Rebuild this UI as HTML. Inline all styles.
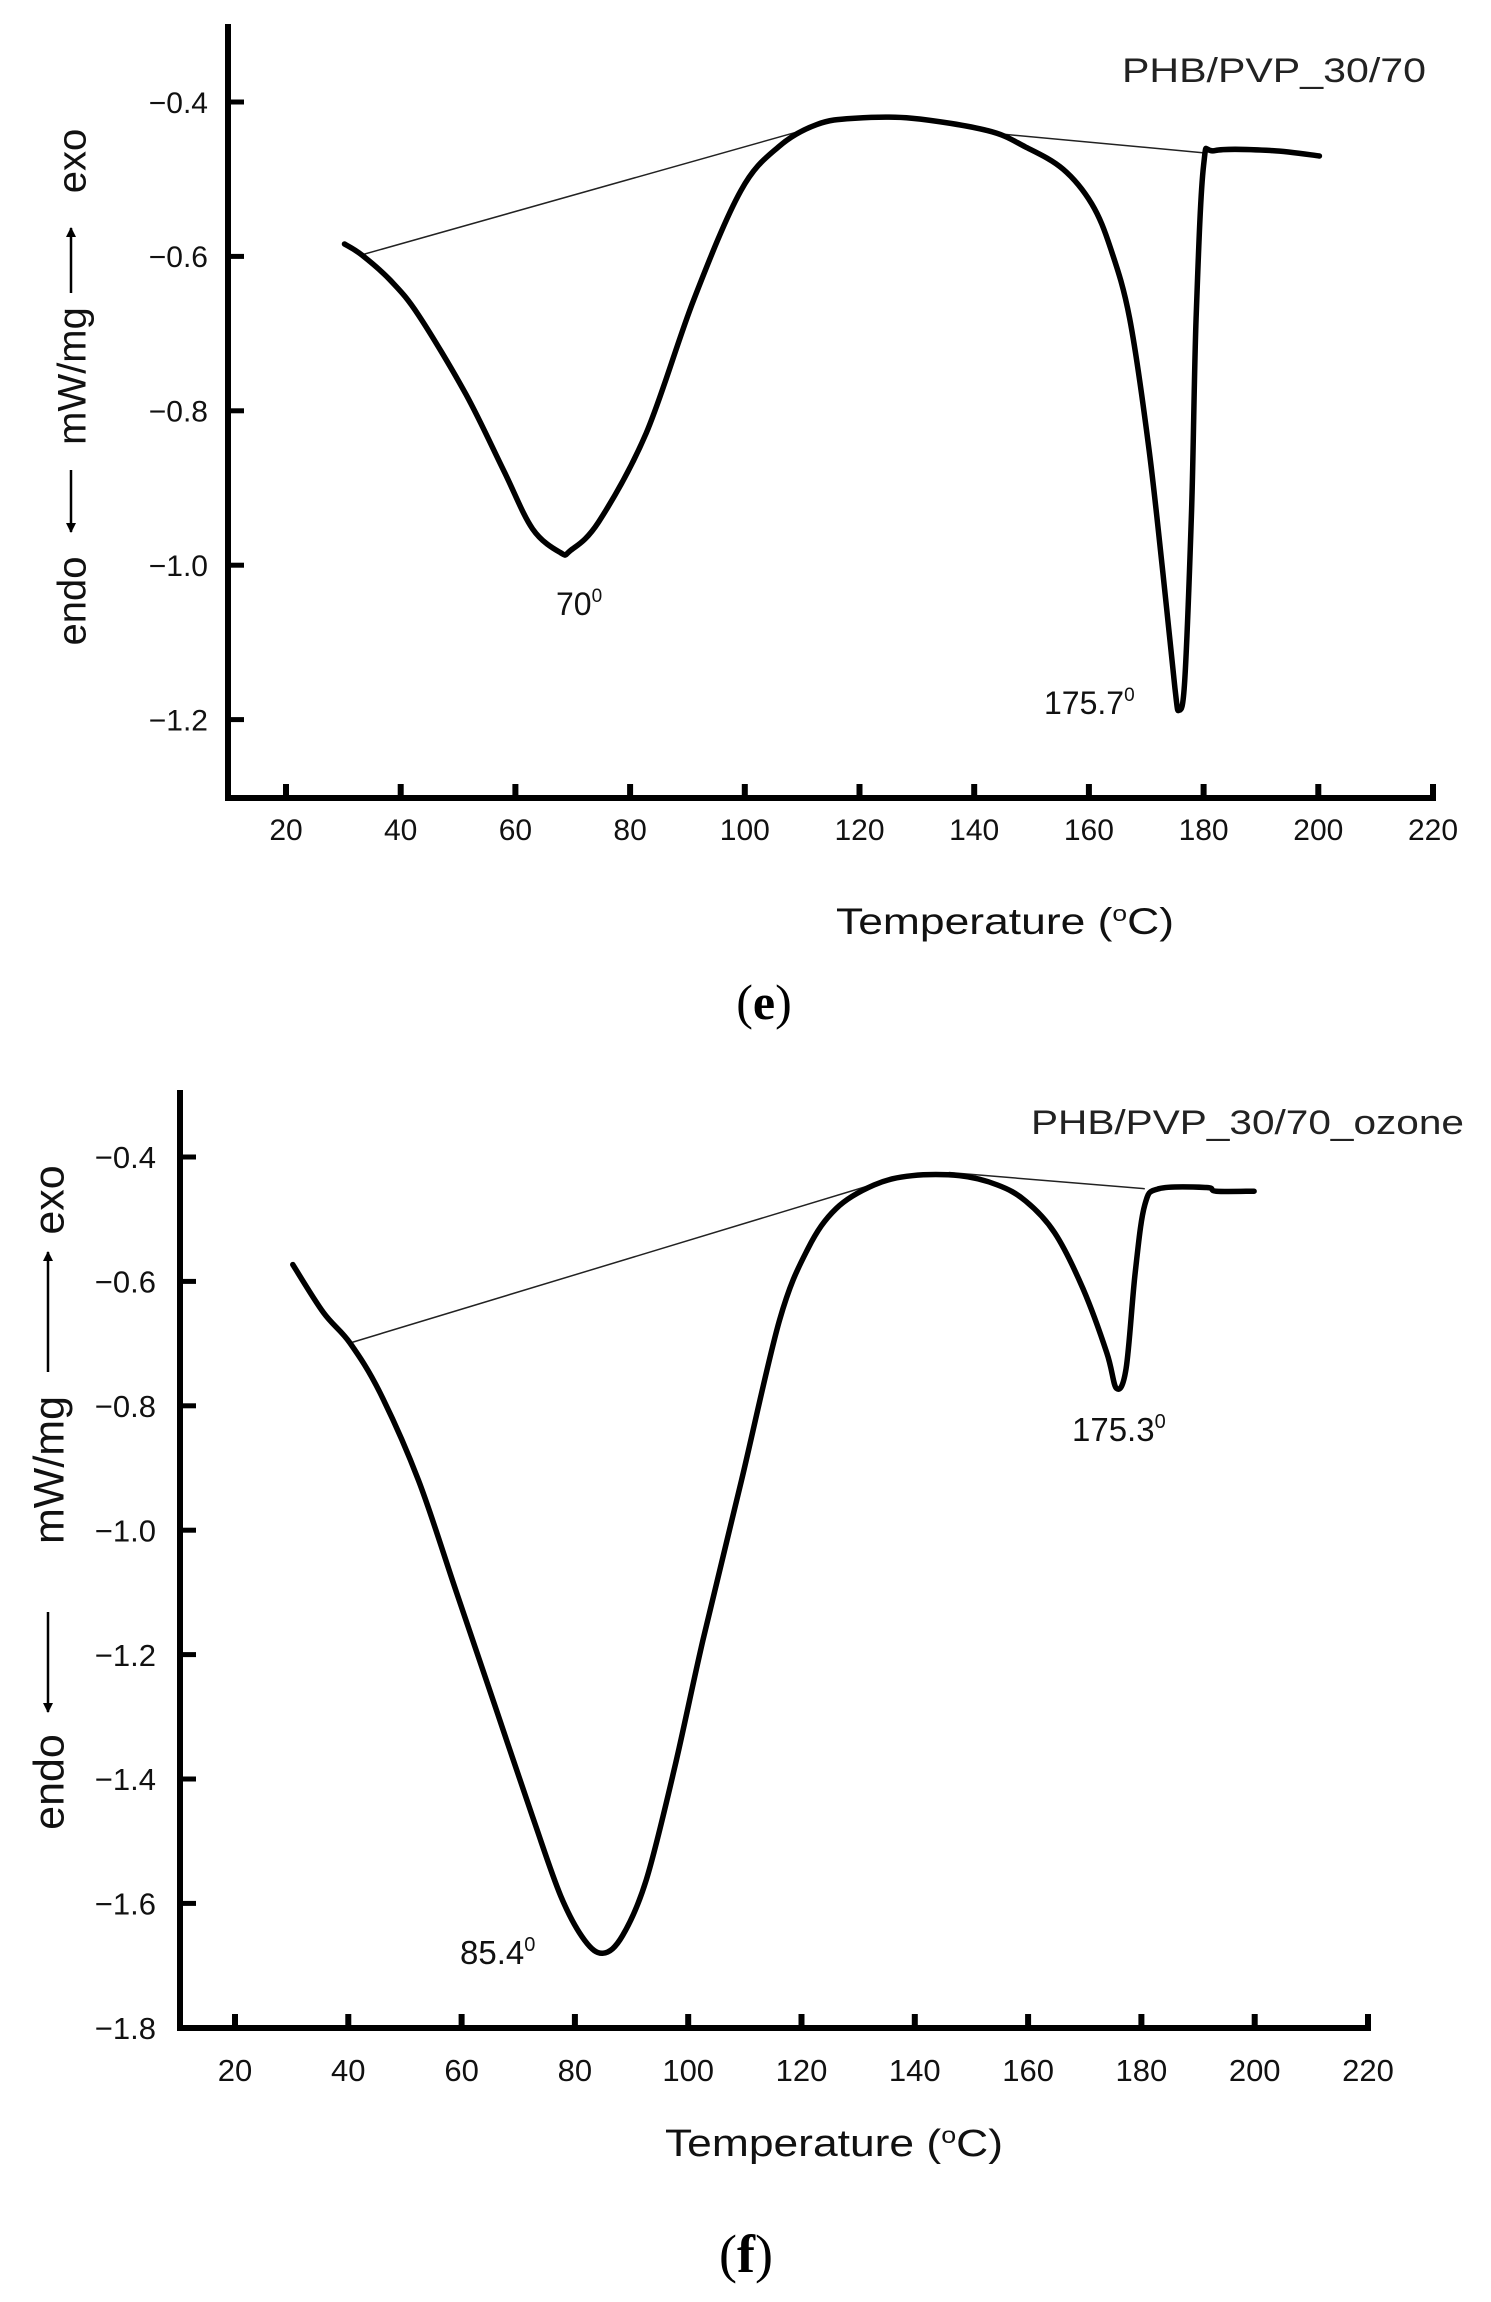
<!DOCTYPE html>
<html><head><meta charset="utf-8"><style>
html,body{margin:0;padding:0;background:#fff;}
svg{display:block;font-family:"Liberation Sans",Arial,sans-serif;}
</style></head><body>
<svg id="fig" width="1491" height="2302" viewBox="0 0 1491 2302" xmlns="http://www.w3.org/2000/svg">
<defs>
<marker id="ah" viewBox="0 0 10 10" refX="9" refY="5" markerWidth="4" markerHeight="4" orient="auto"><path d="M0,0 L10,5 L0,10 z" fill="#000"/></marker>
</defs>
<g id="chartE"></g>
<g id="chartF"></g>
</svg>
<script>
// ---- Chart (e) data ----
const eTemps = [30.2,33.2,38.2,43.1,51.4,58,63,67.9,69.6,74.5,82.8,91.1,99.3,105.9,112.6,119.2,129.1,142.3,148.9,155.5,160.5,163.8,167.1,170.4,172.9,175,175.7,176.7,177.9,178.7,180,182,192,200.2];
const eValues = [-0.584,-0.598,-0.631,-0.676,-0.779,-0.878,-0.953,-0.984,-0.981,-0.944,-0.829,-0.656,-0.515,-0.458,-0.429,-0.421,-0.421,-0.437,-0.458,-0.487,-0.532,-0.59,-0.68,-0.845,-1.01,-1.159,-1.188,-1.15,-0.928,-0.68,-0.482,-0.463,-0.463,-0.47];
const eBase1T = [33.2,110];
const eBase1V = [-0.598,-0.437];
const eBase2T = [144,180.3];
const eBase2V = [-0.441,-0.466];
const eXTicks = [20,40,60,80,100,120,140,160,180,200,220];
const eYTicks = [-0.4,-0.6,-0.8,-1.0,-1.2];
const eYLabels = ["\u22120.4","\u22120.6","\u22120.8","\u22121.0","\u22121.2"];

// ---- Chart (f) data ----
const fTemps = [30.2,35.6,40.3,45.6,52.4,59.1,65.8,72.5,77.5,81.7,85,88.4,92.6,97.6,102.6,109.4,116.1,121.1,126.1,132.8,139.5,147.9,154.6,159.6,164.7,169.7,173.9,175.6,177.3,178.9,180.6,183.1,191.5,193.2,199.9];
const fValues = [-0.573,-0.65,-0.699,-0.779,-0.92,-1.1,-1.28,-1.46,-1.588,-1.659,-1.68,-1.652,-1.562,-1.382,-1.177,-0.92,-0.663,-0.548,-0.483,-0.445,-0.43,-0.43,-0.445,-0.471,-0.522,-0.612,-0.715,-0.772,-0.74,-0.586,-0.477,-0.451,-0.449,-0.455,-0.455];
const fBase1T = [40.3,134.5];
const fBase1V = [-0.699,-0.439];
const fBase2T = [146,180.6];
const fBase2V = [-0.425,-0.451];
const fXTicks = [20,40,60,80,100,120,140,160,180,200,220];
const fYTicks = [-0.4,-0.6,-0.8,-1.0,-1.2,-1.4,-1.6,-1.8];
const fYLabels = ["\u22120.4","\u22120.6","\u22120.8","\u22121.0","\u22121.2","\u22121.4","\u22121.6","\u22121.8"];

const NS = "http://www.w3.org/2000/svg";
function mk(parent, tag, attrs, text){
  const el = document.createElementNS(NS, tag);
  for (const k in attrs) el.setAttribute(k, attrs[k]);
  if (text !== undefined) el.textContent = text;
  parent.appendChild(el);
  return el;
}
function smoothPath(pts){
  let d = 'M'+pts[0][0].toFixed(1)+','+pts[0][1].toFixed(1);
  for (let i=0;i<pts.length-1;i++){
    const p0=pts[Math.max(0,i-1)], p1=pts[i], p2=pts[i+1], p3=pts[Math.min(pts.length-1,i+2)];
    const c1=[p1[0]+(p2[0]-p0[0])/6, p1[1]+(p2[1]-p0[1])/6];
    const c2=[p2[0]-(p3[0]-p1[0])/6, p2[1]-(p3[1]-p1[1])/6];
    d+=' C'+c1[0].toFixed(1)+','+c1[1].toFixed(1)+' '+c2[0].toFixed(1)+','+c2[1].toFixed(1)+' '+p2[0].toFixed(1)+','+p2[1].toFixed(1);
  }
  return d;
}

function drawChart(g, cfg){
  const X = t => cfg.x0 + (t - 20) * cfg.xs;
  const Y = v => cfg.y0 + (-0.4 - v) * cfg.ys;
  const yAxis = mk(g,'line',{x1:cfg.ax,y1:cfg.top,x2:cfg.ax,y2:cfg.bottom,stroke:'#000','stroke-width':6});
  
  
  const xAxis = mk(g,'line',{x1:cfg.ax-3,y1:cfg.bottom,x2:X(220)+3,y2:cfg.bottom,stroke:'#000','stroke-width':6});
  
  
  cfg.xTicks.forEach(t=>{
    const tk = mk(g,'line',{x1:X(t),y1:cfg.bottom,x2:X(t),y2:cfg.bottom-14,stroke:'#000','stroke-width':6});
    
    
    const lb = mk(g,'text',{x:X(t),y:cfg.xLabelY,'font-size':cfg.tickFont,'text-anchor':'middle',fill:'#111'},String(t));
    
    
  });
  cfg.yTicks.forEach((v,i)=>{
    const tk = mk(g,'line',{x1:cfg.ax,y1:Y(v),x2:cfg.ax+16,y2:Y(v),stroke:'#000','stroke-width':5});
    
    
    const lb = mk(g,'text',{x:cfg.yLabelX,y:Y(v)+cfg.tickFont*0.36,'font-size':cfg.tickFont,'text-anchor':'end',fill:'#111'},cfg.yLabels[i]);
    
    
  });
  [[cfg.b1T,cfg.b1V],[cfg.b2T,cfg.b2V]].forEach(([ts,vs])=>{
    const bl = mk(g,'line',{x1:X(ts[0]),y1:Y(vs[0]),x2:X(ts[1]),y2:Y(vs[1]),stroke:'#222','stroke-width':1.5});
    
    
  });
  const pts = cfg.temps.map((t,i)=>[X(t),Y(cfg.vals[i])]);
  const p = mk(g,'path',{d:smoothPath(pts),fill:'none',stroke:'#000','stroke-width':5.5,'stroke-linejoin':'round','stroke-linecap':'round'});
  
  
}

const gE = document.getElementById('chartE');
drawChart(gE,{x0:286,xs:5.735,y0:102,ys:772,ax:228,top:24,bottom:798,xTicks:eXTicks,yTicks:eYTicks,yLabels:eYLabels,
  xLabelY:840,yLabelX:208,tickFont:30,temps:eTemps,vals:eValues,b1T:eBase1T,b1V:eBase1V,b2T:eBase2T,b2V:eBase2V});
const gF = document.getElementById('chartF');
drawChart(gF,{x0:235,xs:5.665,y0:1157,ys:622,ax:180,top:1090,bottom:2028,xTicks:fXTicks,yTicks:fYTicks,yLabels:fYLabels,
  xLabelY:2081,yLabelX:156,tickFont:31,temps:fTemps,vals:fValues,b1T:fBase1T,b1V:fBase1V,b2T:fBase2T,b2V:fBase2V});

function addText(g,name,attrs,html){
  const t = document.createElementNS(NS,'text');
  for (const k in attrs) t.setAttribute(k, attrs[k]);
  t.innerHTML = html;
  
  
  g.appendChild(t);
  return t;
}
addText(gE,'series-title',{x:1122,y:82,'font-size':34,textLength:304,lengthAdjust:'spacingAndGlyphs',fill:'#222'},'PHB/PVP_30/70');
addText(gE,'peak-label-70',{x:556,y:615,'font-size':32,fill:'#111'},'70<tspan dy="-13" font-size="19">0</tspan>');
addText(gE,'peak-label-175-7',{x:1044,y:714,'font-size':32,fill:'#111'},'175.7<tspan dy="-13" font-size="19">0</tspan>');
addText(gE,'x-axis-title',{x:836,y:934,'font-size':37,textLength:338,lengthAdjust:'spacingAndGlyphs',fill:'#111'},'Temperature (<tspan dy="-13" font-size="22">o</tspan><tspan dy="13">C)</tspan>');
addText(gE,'panel-label-e',{x:764,y:1019,'font-size':50,'text-anchor':'middle','font-family':'Liberation Serif, serif',fill:'#000'},'(<tspan font-weight="bold">e</tspan>)');

addText(gF,'series-title',{x:1031,y:1134,'font-size':34,textLength:433,lengthAdjust:'spacingAndGlyphs',fill:'#222'},'PHB/PVP_30/70_ozone');
addText(gF,'peak-label-175-3',{x:1072,y:1441,'font-size':33,fill:'#111'},'175.3<tspan dy="-13" font-size="20">0</tspan>');
addText(gF,'peak-label-85-4',{x:460,y:1964,'font-size':33,fill:'#111'},'85.4<tspan dy="-13" font-size="20">0</tspan>');
addText(gF,'x-axis-title',{x:665,y:2156,'font-size':38,textLength:338,lengthAdjust:'spacingAndGlyphs',fill:'#111'},'Temperature (<tspan dy="-13" font-size="23">o</tspan><tspan dy="13">C)</tspan>');
addText(gF,'panel-label-f',{x:746,y:2272,'font-size':54,'text-anchor':'middle','font-family':'Liberation Serif, serif',fill:'#000'},'(<tspan font-weight="bold">f</tspan>)');

function yTitle(g, cx, parts){
  const grp = document.createElementNS(NS,'g');
  
  
  g.appendChild(grp);
  parts.texts.forEach(p=>{
    const t = mk(grp,'text',{x:0,y:0,'font-size':parts.font,'text-anchor':'middle',fill:'#111',
      transform:'translate('+(cx+parts.font*0.36)+','+p.c+') rotate(-90)'},p.s);
    
    
  });
  parts.arrows.forEach(a=>{
    const l = mk(grp,'line',{x1:cx,y1:a[0],x2:cx,y2:a[1],stroke:'#000','stroke-width':2.5,'marker-end':'url(#ah)'});
    
    
  });
}
yTitle(gE,71,{font:40,texts:[{s:'exo',c:161,n:'exo'},{s:'mW/mg',c:376,n:'units'},{s:'endo',c:601,n:'endo'}],arrows:[[293,228],[470,532]]});
yTitle(gF,48,{font:43,texts:[{s:'exo',c:1200,n:'exo'},{s:'mW/mg',c:1470,n:'units'},{s:'endo',c:1782,n:'endo'}],arrows:[[1372,1252],[1612,1712]]});
</script>
</body></html>
